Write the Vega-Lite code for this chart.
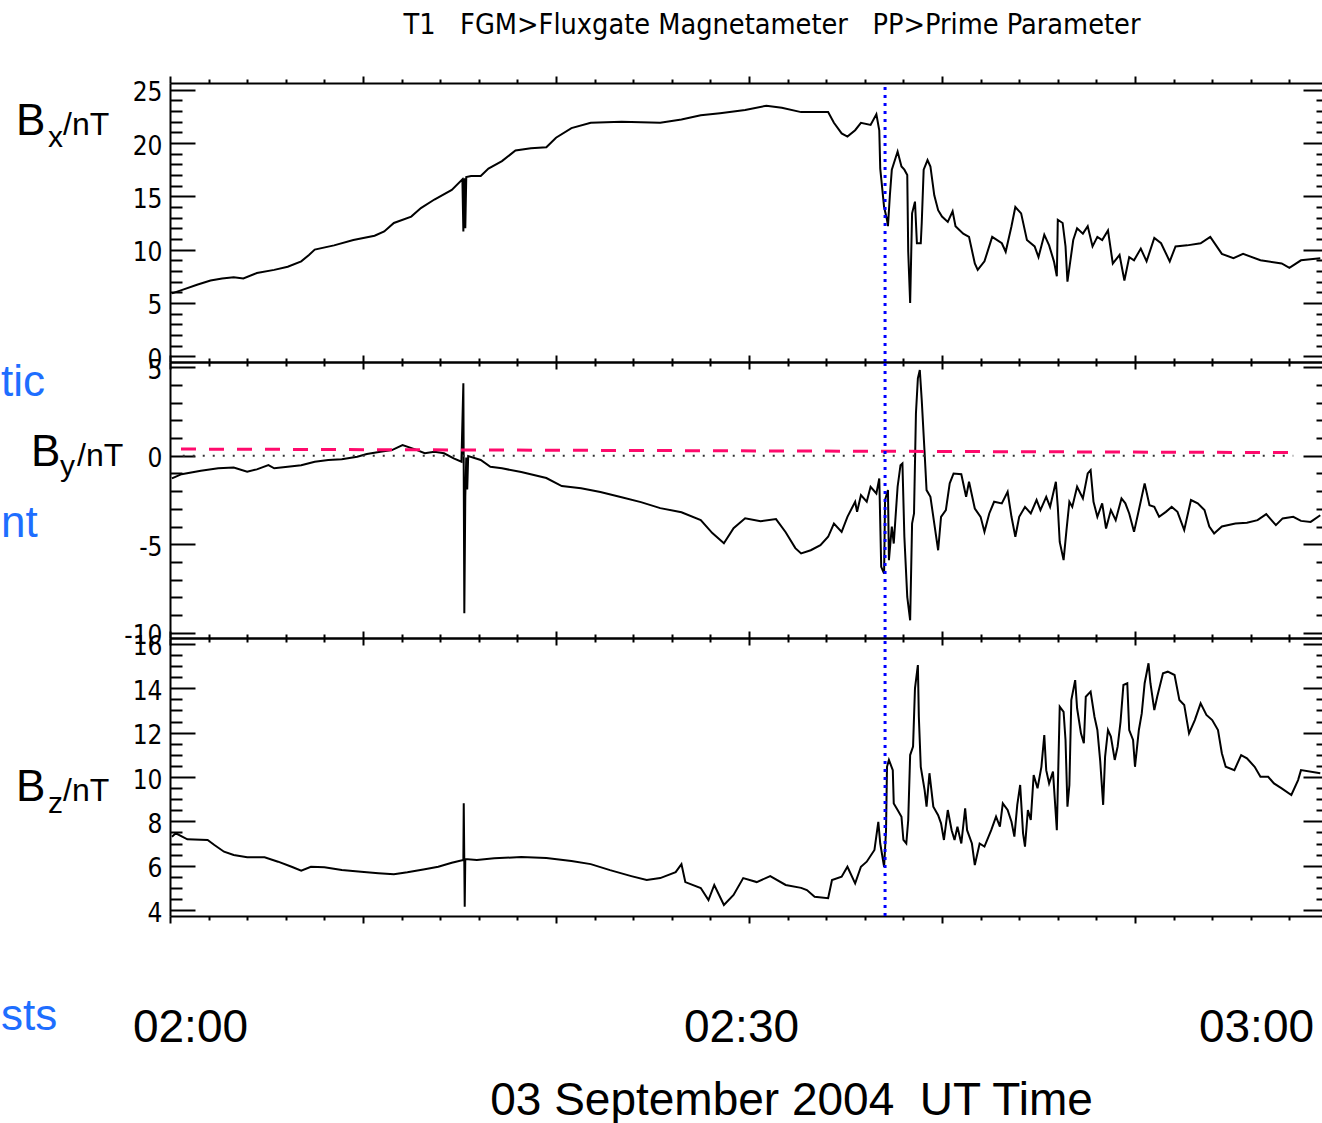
{
  "$schema": "https://vega.github.io/schema/vega-lite/v6.json",
  "background": "white",
  "padding": {"left": 0, "top": 11, "right": 0, "bottom": 0},
  "autosize": {"type": "pad"},
  "config": {
    "view": {"stroke": null},
    "axis": {"grid": false, "domainColor": "#000", "tickColor": "#000", "domainWidth": 2, "tickWidth": 2, "labelColor": "#000"}
  },
  "title": {
    "text": "T1\u00a0\u00a0 FGM>Fluxgate Magnetameter\u00a0\u00a0 PP>Prime Parameter",
    "anchor": "middle", "frame": "group", "dx": 23, "offset": 12,
    "font": "DejaVu Sans Condensed", "fontSize": 28.6, "fontWeight": "normal", "color": "#000", "baseline": "alphabetic"
  },
  "spacing": 0,
  "bounds": "flush",
  "datasets": {
    "bx": [
      {"minute":0.1,"nT":5.9},{"minute":0.6,"nT":6.2},{"minute":1.4,"nT":6.7},{"minute":2.1,"nT":7.1},{"minute":2.7,"nT":7.3},{"minute":3.3,"nT":7.4},{"minute":3.8,"nT":7.3},{"minute":4.5,"nT":7.8},{"minute":5.4,"nT":8.1},{"minute":6.1,"nT":8.4},{"minute":6.8,"nT":8.9},{"minute":7.2,"nT":9.5},{"minute":7.5,"nT":10.0},{"minute":8.5,"nT":10.4},{"minute":9.5,"nT":10.9},{"minute":10.6,"nT":11.3},{"minute":11.1,"nT":11.7},{"minute":11.6,"nT":12.5},{"minute":12.5,"nT":13.1},{"minute":13.0,"nT":13.9},{"minute":13.7,"nT":14.7},{"minute":14.6,"nT":15.6},{"minute":15.15,"nT":16.6},{"minute":15.2,"nT":11.7},{"minute":15.25,"nT":16.7},{"minute":15.3,"nT":12.0},{"minute":15.35,"nT":16.8},{"minute":15.6,"nT":16.9},{"minute":16.1,"nT":16.9},{"minute":16.5,"nT":17.6},{"minute":17.2,"nT":18.3},{"minute":17.9,"nT":19.3},{"minute":18.7,"nT":19.5},{"minute":19.5,"nT":19.6},{"minute":20.0,"nT":20.5},{"minute":20.8,"nT":21.4},{"minute":21.8,"nT":21.9},{"minute":23.4,"nT":22.0},{"minute":25.4,"nT":21.9},{"minute":26.5,"nT":22.2},{"minute":27.5,"nT":22.6},{"minute":28.5,"nT":22.8},{"minute":29.8,"nT":23.1},{"minute":30.9,"nT":23.5},{"minute":31.7,"nT":23.3},{"minute":32.7,"nT":22.9},{"minute":34.1,"nT":22.9},{"minute":34.4,"nT":21.9},{"minute":34.8,"nT":20.9},{"minute":35.1,"nT":20.6},{"minute":35.5,"nT":21.2},{"minute":35.8,"nT":21.9},{"minute":36.3,"nT":21.7},{"minute":36.6,"nT":22.7},{"minute":36.75,"nT":21.2},{"minute":36.8,"nT":17.6},{"minute":37.0,"nT":14.0},{"minute":37.15,"nT":12.8},{"minute":37.2,"nT":12.2},{"minute":37.3,"nT":15.1},{"minute":37.4,"nT":17.5},{"minute":37.7,"nT":19.2},{"minute":37.9,"nT":17.8},{"minute":38.05,"nT":17.5},{"minute":38.2,"nT":17.0},{"minute":38.25,"nT":9.8},{"minute":38.35,"nT":5.0},{"minute":38.45,"nT":13.4},{"minute":38.6,"nT":14.5},{"minute":38.7,"nT":10.6},{"minute":38.9,"nT":10.6},{"minute":38.95,"nT":12.5},{"minute":39.05,"nT":17.5},{"minute":39.25,"nT":18.4},{"minute":39.4,"nT":17.8},{"minute":39.6,"nT":15.1},{"minute":39.8,"nT":13.7},{"minute":40.0,"nT":13.1},{"minute":40.3,"nT":12.6},{"minute":40.55,"nT":13.6},{"minute":40.7,"nT":12.2},{"minute":41.1,"nT":11.5},{"minute":41.4,"nT":11.2},{"minute":41.7,"nT":8.7},{"minute":41.85,"nT":8.1},{"minute":42.2,"nT":8.9},{"minute":42.6,"nT":11.2},{"minute":43.1,"nT":10.6},{"minute":43.3,"nT":9.8},{"minute":43.6,"nT":12.2},{"minute":43.8,"nT":14.0},{"minute":44.1,"nT":13.4},{"minute":44.4,"nT":10.9},{"minute":44.8,"nT":10.3},{"minute":45.0,"nT":9.3},{"minute":45.3,"nT":11.4},{"minute":45.55,"nT":10.4},{"minute":45.8,"nT":8.9},{"minute":45.95,"nT":7.5},{"minute":46.0,"nT":12.8},{"minute":46.25,"nT":12.5},{"minute":46.4,"nT":10.3},{"minute":46.5,"nT":7.0},{"minute":46.8,"nT":10.9},{"minute":47.0,"nT":12.0},{"minute":47.3,"nT":11.5},{"minute":47.55,"nT":12.2},{"minute":47.8,"nT":10.3},{"minute":48.05,"nT":11.2},{"minute":48.3,"nT":10.9},{"minute":48.6,"nT":11.8},{"minute":48.85,"nT":8.7},{"minute":49.2,"nT":9.5},{"minute":49.45,"nT":7.1},{"minute":49.7,"nT":9.3},{"minute":49.95,"nT":9.0},{"minute":50.3,"nT":10.1},{"minute":50.6,"nT":8.9},{"minute":51.0,"nT":11.1},{"minute":51.35,"nT":10.6},{"minute":51.8,"nT":8.9},{"minute":52.1,"nT":10.3},{"minute":52.7,"nT":10.4},{"minute":53.4,"nT":10.6},{"minute":53.9,"nT":11.2},{"minute":54.5,"nT":9.6},{"minute":55.1,"nT":9.2},{"minute":55.6,"nT":9.6},{"minute":56.5,"nT":9.0},{"minute":57.6,"nT":8.7},{"minute":58.0,"nT":8.3},{"minute":58.6,"nT":9.0},{"minute":59.6,"nT":9.2}
    ],
    "by": [
      {"minute":0.1,"nT":-1.28},{"minute":0.6,"nT":-1.04},{"minute":1.6,"nT":-0.85},{"minute":2.5,"nT":-0.71},{"minute":3.3,"nT":-0.66},{"minute":4.0,"nT":-0.9},{"minute":4.5,"nT":-0.77},{"minute":5.1,"nT":-0.53},{"minute":5.4,"nT":-0.71},{"minute":6.1,"nT":-0.62},{"minute":6.8,"nT":-0.53},{"minute":7.5,"nT":-0.34},{"minute":8.2,"nT":-0.24},{"minute":8.9,"nT":-0.2},{"minute":9.7,"nT":-0.06},{"minute":10.2,"nT":0.1},{"minute":10.9,"nT":0.23},{"minute":11.5,"nT":0.32},{"minute":12.05,"nT":0.6},{"minute":12.7,"nT":0.36},{"minute":13.2,"nT":0.14},{"minute":13.7,"nT":0.23},{"minute":14.2,"nT":0.14},{"minute":14.7,"nT":-0.15},{"minute":15.1,"nT":-0.34},{"minute":15.2,"nT":4.1},{"minute":15.25,"nT":-8.9},{"minute":15.3,"nT":-2.3},{"minute":15.35,"nT":-0.1},{"minute":15.4,"nT":-1.9},{"minute":15.45,"nT":-0.02},{"minute":16.1,"nT":-0.24},{"minute":16.6,"nT":-0.62},{"minute":17.2,"nT":-0.71},{"minute":18.2,"nT":-0.92},{"minute":19.5,"nT":-1.26},{"minute":20.3,"nT":-1.71},{"minute":21.3,"nT":-1.83},{"minute":22.3,"nT":-2.05},{"minute":23.4,"nT":-2.34},{"minute":24.4,"nT":-2.62},{"minute":25.4,"nT":-2.96},{"minute":26.5,"nT":-3.19},{"minute":27.5,"nT":-3.64},{"minute":28.1,"nT":-4.37},{"minute":28.7,"nT":-4.94},{"minute":29.2,"nT":-4.09},{"minute":29.8,"nT":-3.53},{"minute":30.6,"nT":-3.7},{"minute":31.4,"nT":-3.58},{"minute":31.9,"nT":-4.32},{"minute":32.4,"nT":-5.22},{"minute":32.7,"nT":-5.52},{"minute":33.2,"nT":-5.34},{"minute":33.7,"nT":-5.05},{"minute":34.1,"nT":-4.58},{"minute":34.4,"nT":-3.83},{"minute":34.8,"nT":-4.3},{"minute":35.1,"nT":-3.45},{"minute":35.5,"nT":-2.6},{"minute":35.6,"nT":-3.17},{"minute":35.8,"nT":-2.22},{"minute":36.1,"nT":-2.6},{"minute":36.3,"nT":-1.75},{"minute":36.6,"nT":-2.13},{"minute":36.75,"nT":-1.28},{"minute":36.85,"nT":-6.28},{"minute":37.0,"nT":-6.66},{"minute":37.05,"nT":-2.5},{"minute":37.2,"nT":-1.94},{"minute":37.25,"nT":-5.9},{"minute":37.4,"nT":-4.0},{"minute":37.5,"nT":-4.96},{"minute":37.7,"nT":-1.75},{"minute":37.85,"nT":-0.53},{"minute":37.95,"nT":-0.43},{"minute":38.05,"nT":-4.58},{"minute":38.2,"nT":-7.98},{"minute":38.35,"nT":-9.3},{"minute":38.45,"nT":-3.83},{"minute":38.55,"nT":-3.26},{"minute":38.65,"nT":2.4},{"minute":38.75,"nT":4.38},{"minute":38.85,"nT":4.85},{"minute":38.95,"nT":3.15},{"minute":39.1,"nT":0.14},{"minute":39.2,"nT":-1.94},{"minute":39.4,"nT":-2.32},{"minute":39.6,"nT":-3.83},{"minute":39.8,"nT":-5.34},{"minute":39.95,"nT":-3.45},{"minute":40.2,"nT":-3.07},{"minute":40.4,"nT":-1.56},{"minute":40.6,"nT":-1.0},{"minute":41.0,"nT":-1.04},{"minute":41.25,"nT":-2.32},{"minute":41.4,"nT":-1.47},{"minute":41.7,"nT":-2.98},{"minute":42.0,"nT":-3.45},{"minute":42.2,"nT":-4.3},{"minute":42.45,"nT":-3.26},{"minute":42.7,"nT":-2.6},{"minute":43.1,"nT":-2.69},{"minute":43.4,"nT":-2.04},{"minute":43.6,"nT":-3.45},{"minute":43.8,"nT":-4.58},{"minute":44.0,"nT":-3.45},{"minute":44.3,"nT":-2.89},{"minute":44.6,"nT":-3.26},{"minute":44.9,"nT":-2.5},{"minute":45.1,"nT":-3.07},{"minute":45.4,"nT":-2.32},{"minute":45.6,"nT":-2.89},{"minute":45.9,"nT":-1.47},{"minute":46.0,"nT":-2.89},{"minute":46.1,"nT":-4.87},{"minute":46.3,"nT":-5.9},{"minute":46.45,"nT":-4.2},{"minute":46.6,"nT":-2.6},{"minute":46.75,"nT":-2.89},{"minute":47.0,"nT":-1.75},{"minute":47.3,"nT":-2.41},{"minute":47.55,"nT":-1.0},{"minute":47.7,"nT":-0.81},{"minute":47.85,"nT":-2.6},{"minute":48.05,"nT":-3.45},{"minute":48.3,"nT":-2.69},{"minute":48.5,"nT":-4.11},{"minute":48.75,"nT":-3.07},{"minute":49.0,"nT":-3.64},{"minute":49.3,"nT":-2.41},{"minute":49.5,"nT":-2.69},{"minute":49.7,"nT":-3.26},{"minute":49.95,"nT":-4.3},{"minute":50.2,"nT":-3.07},{"minute":50.5,"nT":-1.56},{"minute":50.75,"nT":-2.79},{"minute":51.0,"nT":-2.89},{"minute":51.25,"nT":-3.45},{"minute":51.6,"nT":-3.17},{"minute":51.9,"nT":-2.89},{"minute":52.2,"nT":-3.17},{"minute":52.55,"nT":-4.2},{"minute":52.9,"nT":-2.5},{"minute":53.25,"nT":-2.69},{"minute":53.6,"nT":-3.07},{"minute":53.85,"nT":-4.0},{"minute":54.1,"nT":-4.39},{"minute":54.5,"nT":-4.0},{"minute":55.2,"nT":-3.83},{"minute":55.8,"nT":-3.79},{"minute":56.35,"nT":-3.64},{"minute":56.8,"nT":-3.3},{"minute":57.3,"nT":-3.92},{"minute":57.65,"nT":-3.54},{"minute":58.2,"nT":-3.45},{"minute":58.6,"nT":-3.68},{"minute":59.1,"nT":-3.74},{"minute":59.6,"nT":-3.36}
    ],
    "bz": [
      {"minute":0.1,"nT":7.31},{"minute":0.3,"nT":7.46},{"minute":0.9,"nT":7.19},{"minute":1.95,"nT":7.16},{"minute":2.3,"nT":6.93},{"minute":2.8,"nT":6.63},{"minute":3.3,"nT":6.48},{"minute":4.0,"nT":6.38},{"minute":4.9,"nT":6.38},{"minute":5.6,"nT":6.18},{"minute":6.3,"nT":5.95},{"minute":6.8,"nT":5.77},{"minute":7.3,"nT":5.95},{"minute":8.0,"nT":5.93},{"minute":8.9,"nT":5.8},{"minute":9.9,"nT":5.73},{"minute":10.8,"nT":5.66},{"minute":11.6,"nT":5.61},{"minute":12.3,"nT":5.7},{"minute":13.2,"nT":5.84},{"minute":13.9,"nT":5.95},{"minute":14.6,"nT":6.13},{"minute":15.2,"nT":6.26},{"minute":15.22,"nT":8.81},{"minute":15.27,"nT":4.15},{"minute":15.3,"nT":6.3},{"minute":15.9,"nT":6.26},{"minute":16.8,"nT":6.33},{"minute":18.2,"nT":6.39},{"minute":19.5,"nT":6.35},{"minute":20.8,"nT":6.21},{"minute":21.8,"nT":6.07},{"minute":22.8,"nT":5.8},{"minute":23.9,"nT":5.53},{"minute":24.7,"nT":5.35},{"minute":25.4,"nT":5.44},{"minute":26.2,"nT":5.71},{"minute":26.5,"nT":6.07},{"minute":26.7,"nT":5.26},{"minute":27.5,"nT":4.99},{"minute":27.9,"nT":4.45},{"minute":28.2,"nT":5.13},{"minute":28.7,"nT":4.23},{"minute":29.2,"nT":4.68},{"minute":29.7,"nT":5.44},{"minute":30.4,"nT":5.26},{"minute":31.1,"nT":5.53},{"minute":31.9,"nT":5.13},{"minute":32.7,"nT":5.0},{"minute":33.0,"nT":4.9},{"minute":33.4,"nT":4.6},{"minute":34.1,"nT":4.53},{"minute":34.3,"nT":5.35},{"minute":34.8,"nT":5.5},{"minute":35.1,"nT":5.95},{"minute":35.5,"nT":5.2},{"minute":35.8,"nT":5.95},{"minute":36.1,"nT":6.18},{"minute":36.5,"nT":6.71},{"minute":36.7,"nT":7.98},{"minute":36.8,"nT":7.0},{"minute":37.0,"nT":5.95},{"minute":37.1,"nT":7.6},{"minute":37.15,"nT":10.46},{"minute":37.25,"nT":10.77},{"minute":37.45,"nT":10.31},{"minute":37.5,"nT":8.81},{"minute":37.7,"nT":8.51},{"minute":37.9,"nT":8.21},{"minute":38.0,"nT":7.16},{"minute":38.15,"nT":7.0},{"minute":38.25,"nT":8.06},{"minute":38.35,"nT":10.99},{"minute":38.5,"nT":11.37},{"minute":38.6,"nT":14.0},{"minute":38.75,"nT":15.05},{"minute":38.8,"nT":12.72},{"minute":38.9,"nT":10.46},{"minute":39.1,"nT":9.41},{"minute":39.2,"nT":8.66},{"minute":39.35,"nT":10.17},{"minute":39.55,"nT":8.66},{"minute":39.8,"nT":8.28},{"minute":39.95,"nT":7.91},{"minute":40.1,"nT":7.16},{"minute":40.3,"nT":8.51},{"minute":40.5,"nT":7.6},{"minute":40.65,"nT":7.16},{"minute":40.8,"nT":7.76},{"minute":41.0,"nT":7.0},{"minute":41.2,"nT":8.59},{"minute":41.3,"nT":7.6},{"minute":41.55,"nT":7.0},{"minute":41.7,"nT":6.03},{"minute":41.95,"nT":7.0},{"minute":42.2,"nT":6.86},{"minute":42.55,"nT":7.6},{"minute":42.8,"nT":8.21},{"minute":43.0,"nT":7.76},{"minute":43.15,"nT":8.81},{"minute":43.4,"nT":8.51},{"minute":43.6,"nT":7.98},{"minute":43.75,"nT":7.31},{"minute":43.9,"nT":8.74},{"minute":44.05,"nT":9.64},{"minute":44.2,"nT":7.46},{"minute":44.3,"nT":6.86},{"minute":44.45,"nT":8.51},{"minute":44.6,"nT":8.06},{"minute":44.75,"nT":10.09},{"minute":44.95,"nT":9.49},{"minute":45.15,"nT":10.46},{"minute":45.3,"nT":11.89},{"minute":45.4,"nT":10.31},{"minute":45.55,"nT":9.71},{"minute":45.75,"nT":10.24},{"minute":45.95,"nT":7.6},{"minute":46.1,"nT":13.17},{"minute":46.3,"nT":12.94},{"minute":46.4,"nT":11.67},{"minute":46.5,"nT":8.66},{"minute":46.6,"nT":9.64},{"minute":46.7,"nT":13.47},{"minute":46.9,"nT":14.37},{"minute":47.0,"nT":13.1},{"minute":47.2,"nT":11.97},{"minute":47.35,"nT":11.52},{"minute":47.45,"nT":13.62},{"minute":47.7,"nT":13.85},{"minute":47.9,"nT":12.72},{"minute":48.05,"nT":12.12},{"minute":48.2,"nT":10.69},{"minute":48.35,"nT":8.74},{"minute":48.45,"nT":10.91},{"minute":48.6,"nT":12.12},{"minute":48.75,"nT":11.82},{"minute":48.95,"nT":10.77},{"minute":49.1,"nT":11.37},{"minute":49.25,"nT":12.49},{"minute":49.4,"nT":14.15},{"minute":49.6,"nT":14.23},{"minute":49.7,"nT":12.12},{"minute":49.9,"nT":11.67},{"minute":50.0,"nT":10.46},{"minute":50.2,"nT":12.12},{"minute":50.35,"nT":12.87},{"minute":50.5,"nT":14.23},{"minute":50.7,"nT":15.13},{"minute":50.8,"nT":14.23},{"minute":51.0,"nT":13.02},{"minute":51.15,"nT":13.62},{"minute":51.45,"nT":14.68},{"minute":51.7,"nT":14.75},{"minute":52.05,"nT":14.6},{"minute":52.3,"nT":13.47},{"minute":52.55,"nT":13.25},{"minute":52.8,"nT":11.97},{"minute":53.1,"nT":12.57},{"minute":53.4,"nT":13.32},{"minute":53.7,"nT":12.8},{"minute":54.0,"nT":12.57},{"minute":54.3,"nT":12.12},{"minute":54.5,"nT":11.07},{"minute":54.7,"nT":10.46},{"minute":55.15,"nT":10.31},{"minute":55.5,"nT":10.99},{"minute":55.8,"nT":10.84},{"minute":56.2,"nT":10.46},{"minute":56.5,"nT":10.01},{"minute":56.9,"nT":10.01},{"minute":57.2,"nT":9.71},{"minute":57.6,"nT":9.49},{"minute":58.1,"nT":9.19},{"minute":58.45,"nT":9.86},{"minute":58.6,"nT":10.31},{"minute":59.6,"nT":10.17}
    ]
  },
  "vconcat": [
    {
      "width": 1158, "height": 279,
      "layer": [
        {
          "data": {"name": "bx"},
          "mark": {"type": "line", "color": "#000", "strokeWidth": 2},
          "encoding": {
            "x": {"field": "minute", "type": "quantitative", "scale": {"domain": [0, 60], "nice": false, "zero": false},
              "axis": {"orient": "bottom", "values": [0,2,4,6,8,10,12,14,16,18,20,22,24,26,28,30,32,34,36,38,40,42,44,46,48,50,52,54,56,58,60], "tickSize": {"condition": {"test": "datum.value % 10 === 0", "value": 7}, "value": 4}, "labels": false, "title": null, "domain": true}},
            "y": {"field": "nT", "type": "quantitative", "scale": {"domain": [-0.54, 25.63], "nice": false, "zero": false},
              "axis": {"orient": "left", "values": [0,1,2,3,4,5,6,7,8,9,10,11,12,13,14,15,16,17,18,19,20,21,22,23,24,25], "tickSize": {"condition": {"test": "datum.value % 5 === 0", "value": -25}, "value": -12}, "labelExpr": "datum.value % 5 === 0 ? '' + datum.value : ''", "labelFont": "DejaVu Sans Condensed", "labelFontSize": 26, "labelPadding": 33, "labelOffset": 3, "labelOverlap": false, "title": null, "domain": true}}
          }
        },
        {
          "data": {"values": [{"minute": 37.05}]},
          "mark": {"type": "rule", "color": "#0000ff", "strokeWidth": 3, "strokeDash": [3, 5]},
          "encoding": {
            "x": {"field": "minute", "type": "quantitative",
              "axis": {"orient": "top", "values": [0,2,4,6,8,10,12,14,16,18,20,22,24,26,28,30,32,34,36,38,40,42,44,46,48,50,52,54,56,58,60], "tickSize": {"condition": {"test": "datum.value % 10 === 0", "value": 7}, "value": 4}, "labels": false, "title": null, "domain": true}},
            "y": {"datum": -0.54, "type": "quantitative",
              "axis": {"orient": "right", "values": [0,1,2,3,4,5,6,7,8,9,10,11,12,13,14,15,16,17,18,19,20,21,22,23,24,25], "tickSize": {"condition": {"test": "datum.value % 5 === 0", "value": -25}, "value": -12}, "labels": false, "title": null, "domain": false}},
            "y2": {"datum": 25.63}
          }
        },
        {
          "data": {"values": [{"sym": "B", "sub": "x", "unit": "/nT"}]},
          "encoding": {"x": {"datum": -7.98, "type": "quantitative", "axis": null}, "y": {"datum": 20.75, "type": "quantitative", "axis": null}},
          "layer": [
            {"mark": {"type": "text", "align": "left", "baseline": "alphabetic", "font": "Liberation Sans", "fontSize": 44, "color": "#000"}, "encoding": {"text": {"field": "sym"}}},
            {"mark": {"type": "text", "align": "left", "baseline": "alphabetic", "font": "Liberation Sans", "fontSize": 30, "color": "#000", "dx": 32, "dy": 12}, "encoding": {"text": {"field": "sub"}}},
            {"mark": {"type": "text", "align": "left", "baseline": "alphabetic", "font": "Liberation Sans", "fontSize": 32, "color": "#000", "dx": 47}, "encoding": {"text": {"field": "unit"}}}
          ]
        }
      ],
      "resolve": {"axis": {"x": "independent", "y": "independent"}}
    },
    {
      "width": 1158, "height": 276,
      "layer": [
        {
          "data": {"name": "by"},
          "mark": {"type": "line", "color": "#000", "strokeWidth": 2},
          "encoding": {
            "x": {"field": "minute", "type": "quantitative", "scale": {"domain": [0, 60], "nice": false, "zero": false},
              "axis": {"orient": "bottom", "values": [0,2,4,6,8,10,12,14,16,18,20,22,24,26,28,30,32,34,36,38,40,42,44,46,48,50,52,54,56,58,60], "tickSize": {"condition": {"test": "datum.value % 10 === 0", "value": 7}, "value": 4}, "labels": false, "title": null, "domain": true}},
            "y": {"field": "nT", "type": "quantitative", "scale": {"domain": [-10.3, 5.3], "nice": false, "zero": false},
              "axis": {"orient": "left", "values": [-10,-9,-8,-7,-6,-5,-4,-3,-2,-1,0,1,2,3,4,5], "tickSize": {"condition": {"test": "datum.value % 5 === 0", "value": -25}, "value": -12}, "labelExpr": "datum.value % 5 === 0 ? '' + datum.value : ''", "labelFont": "DejaVu Sans Condensed", "labelFontSize": 26, "labelPadding": 33, "labelOffset": 3, "labelOverlap": false, "title": null, "domain": true}}
          }
        },
        {
          "data": {"values": [{"minute": 0.66, "nT": 0}, {"minute": 58.2, "nT": 0}]},
          "mark": {"type": "line", "color": "#333", "strokeWidth": 2, "strokeDash": [2, 8]},
          "encoding": {"x": {"field": "minute", "type": "quantitative", "axis": null}, "y": {"field": "nT", "type": "quantitative", "axis": null}}
        },
        {
          "data": {"values": [{"minute": 0.57, "nT": 0.38}, {"minute": 58.0, "nT": 0.18}]},
          "mark": {"type": "line", "color": "#ff0a6c", "strokeWidth": 3, "strokeDash": [15, 13]},
          "encoding": {"x": {"field": "minute", "type": "quantitative", "axis": null}, "y": {"field": "nT", "type": "quantitative", "axis": null}}
        },
        {
          "data": {"values": [{"minute": 37.05}]},
          "mark": {"type": "rule", "color": "#0000ff", "strokeWidth": 3, "strokeDash": [3, 5]},
          "encoding": {
            "x": {"field": "minute", "type": "quantitative",
              "axis": {"orient": "top", "values": [0,2,4,6,8,10,12,14,16,18,20,22,24,26,28,30,32,34,36,38,40,42,44,46,48,50,52,54,56,58,60], "tickSize": {"condition": {"test": "datum.value % 10 === 0", "value": 7}, "value": 4}, "labels": false, "title": null, "domain": true}},
            "y": {"datum": -10.3, "type": "quantitative",
              "axis": {"orient": "right", "values": [-10,-9,-8,-7,-6,-5,-4,-3,-2,-1,0,1,2,3,4,5], "tickSize": {"condition": {"test": "datum.value % 5 === 0", "value": -25}, "value": -12}, "labels": false, "title": null, "domain": false}},
            "y2": {"datum": 5.3}
          }
        },
        {
          "data": {"values": [{"sym": "B", "sub": "y", "unit": "/nT"}]},
          "encoding": {"x": {"datum": -7.2, "type": "quantitative", "axis": null}, "y": {"datum": -0.6, "type": "quantitative", "axis": null}},
          "layer": [
            {"mark": {"type": "text", "align": "left", "baseline": "alphabetic", "font": "Liberation Sans", "fontSize": 44, "color": "#000"}, "encoding": {"text": {"field": "sym"}}},
            {"mark": {"type": "text", "align": "left", "baseline": "alphabetic", "font": "Liberation Sans", "fontSize": 30, "color": "#000", "dx": 29, "dy": 10}, "encoding": {"text": {"field": "sub"}}},
            {"mark": {"type": "text", "align": "left", "baseline": "alphabetic", "font": "Liberation Sans", "fontSize": 32, "color": "#000", "dx": 46}, "encoding": {"text": {"field": "unit"}}}
          ]
        },
        {
          "data": {"values": [{"word": "tic"}]},
          "mark": {"type": "text", "align": "left", "baseline": "alphabetic", "font": "Liberation Sans", "fontSize": 44, "color": "#1e6eff"},
          "encoding": {"x": {"datum": -8.76, "type": "quantitative", "axis": null}, "y": {"datum": 3.38, "type": "quantitative", "axis": null}, "text": {"field": "word"}}
        },
        {
          "data": {"values": [{"word": "nt"}]},
          "mark": {"type": "text", "align": "left", "baseline": "alphabetic", "font": "Liberation Sans", "fontSize": 44, "color": "#1e6eff"},
          "encoding": {"x": {"datum": -8.76, "type": "quantitative", "axis": null}, "y": {"datum": -4.59, "type": "quantitative", "axis": null}, "text": {"field": "word"}}
        }
      ],
      "resolve": {"axis": {"x": "independent", "y": "independent"}}
    },
    {
      "width": 1158, "height": 278,
      "layer": [
        {
          "data": {"name": "bz"},
          "mark": {"type": "line", "color": "#000", "strokeWidth": 2},
          "encoding": {
            "x": {"field": "minute", "type": "quantitative", "scale": {"domain": [0, 60], "nice": false, "zero": false},
              "axis": {"orient": "bottom", "values": [0,2,4,6,8,10,12,14,16,18,20,22,24,26,28,30,32,34,36,38,40,42,44,46,48,50,52,54,56,58,60], "tickSize": {"condition": {"test": "datum.value % 10 === 0", "value": 7}, "value": 4},
                "labelExpr": "datum.value === 0 ? '02:00' : datum.value === 30 ? '02:30' : datum.value === 60 ? '03:00' : ''",
                "labelOffset": {"expr": "datum.value === 0 ? 20 : datum.value === 30 ? -8 : -72"},
                "labelFont": "Liberation Sans", "labelFontSize": 46, "labelBaseline": "alphabetic", "labelAlign": "center", "labelPadding": 118, "labelFlush": false, "labelOverlap": false,
                "title": "03 September 2004\u00a0 UT Time", "titleFont": "Liberation Sans", "titleFontSize": 46, "titleFontWeight": "normal", "titleColor": "#000", "titleX": 621, "titleY": 198, "titleBaseline": "alphabetic", "titleAlign": "center", "domain": true}},
            "y": {"field": "nT", "type": "quantitative", "scale": {"domain": [3.73, 16.27], "nice": false, "zero": false},
              "axis": {"orient": "left", "values": [4,4.5,5,5.5,6,6.5,7,7.5,8,8.5,9,9.5,10,10.5,11,11.5,12,12.5,13,13.5,14,14.5,15,15.5,16], "tickSize": {"condition": {"test": "datum.value % 2 === 0", "value": -25}, "value": -12}, "labelExpr": "datum.value % 2 === 0 ? '' + datum.value : ''", "labelFont": "DejaVu Sans Condensed", "labelFontSize": 26, "labelPadding": 33, "labelOffset": 3, "labelOverlap": false, "title": null, "domain": true}}
          }
        },
        {
          "data": {"values": [{"minute": 37.05}]},
          "mark": {"type": "rule", "color": "#0000ff", "strokeWidth": 3, "strokeDash": [3, 5]},
          "encoding": {
            "x": {"field": "minute", "type": "quantitative",
              "axis": {"orient": "top", "values": [0,2,4,6,8,10,12,14,16,18,20,22,24,26,28,30,32,34,36,38,40,42,44,46,48,50,52,54,56,58,60], "tickSize": {"condition": {"test": "datum.value % 10 === 0", "value": 7}, "value": 4}, "labels": false, "title": null, "domain": true}},
            "y": {"datum": 3.73, "type": "quantitative",
              "axis": {"orient": "right", "values": [4,4.5,5,5.5,6,6.5,7,7.5,8,8.5,9,9.5,10,10.5,11,11.5,12,12.5,13,13.5,14,14.5,15,15.5,16], "tickSize": {"condition": {"test": "datum.value % 2 === 0", "value": -25}, "value": -12}, "labels": false, "title": null, "domain": false}},
            "y2": {"datum": 16.27}
          }
        },
        {
          "data": {"values": [{"sym": "B", "sub": "z", "unit": "/nT"}]},
          "encoding": {"x": {"datum": -7.98, "type": "quantitative", "axis": null}, "y": {"datum": 8.92, "type": "quantitative", "axis": null}},
          "layer": [
            {"mark": {"type": "text", "align": "left", "baseline": "alphabetic", "font": "Liberation Sans", "fontSize": 44, "color": "#000"}, "encoding": {"text": {"field": "sym"}}},
            {"mark": {"type": "text", "align": "left", "baseline": "alphabetic", "font": "Liberation Sans", "fontSize": 30, "color": "#000", "dx": 32, "dy": 12}, "encoding": {"text": {"field": "sub"}}},
            {"mark": {"type": "text", "align": "left", "baseline": "alphabetic", "font": "Liberation Sans", "fontSize": 32, "color": "#000", "dx": 47}, "encoding": {"text": {"field": "unit"}}}
          ]
        },
        {
          "data": {"values": [{"word": "sts"}]},
          "mark": {"type": "text", "align": "left", "baseline": "alphabetic", "font": "Liberation Sans", "fontSize": 44, "color": "#1e6eff"},
          "encoding": {"x": {"datum": -8.76, "type": "quantitative", "axis": null}, "y": {"datum": -1.41, "type": "quantitative", "axis": null}, "text": {"field": "word"}}
        }
      ],
      "resolve": {"axis": {"x": "independent", "y": "independent"}}
    }
  ]
}
